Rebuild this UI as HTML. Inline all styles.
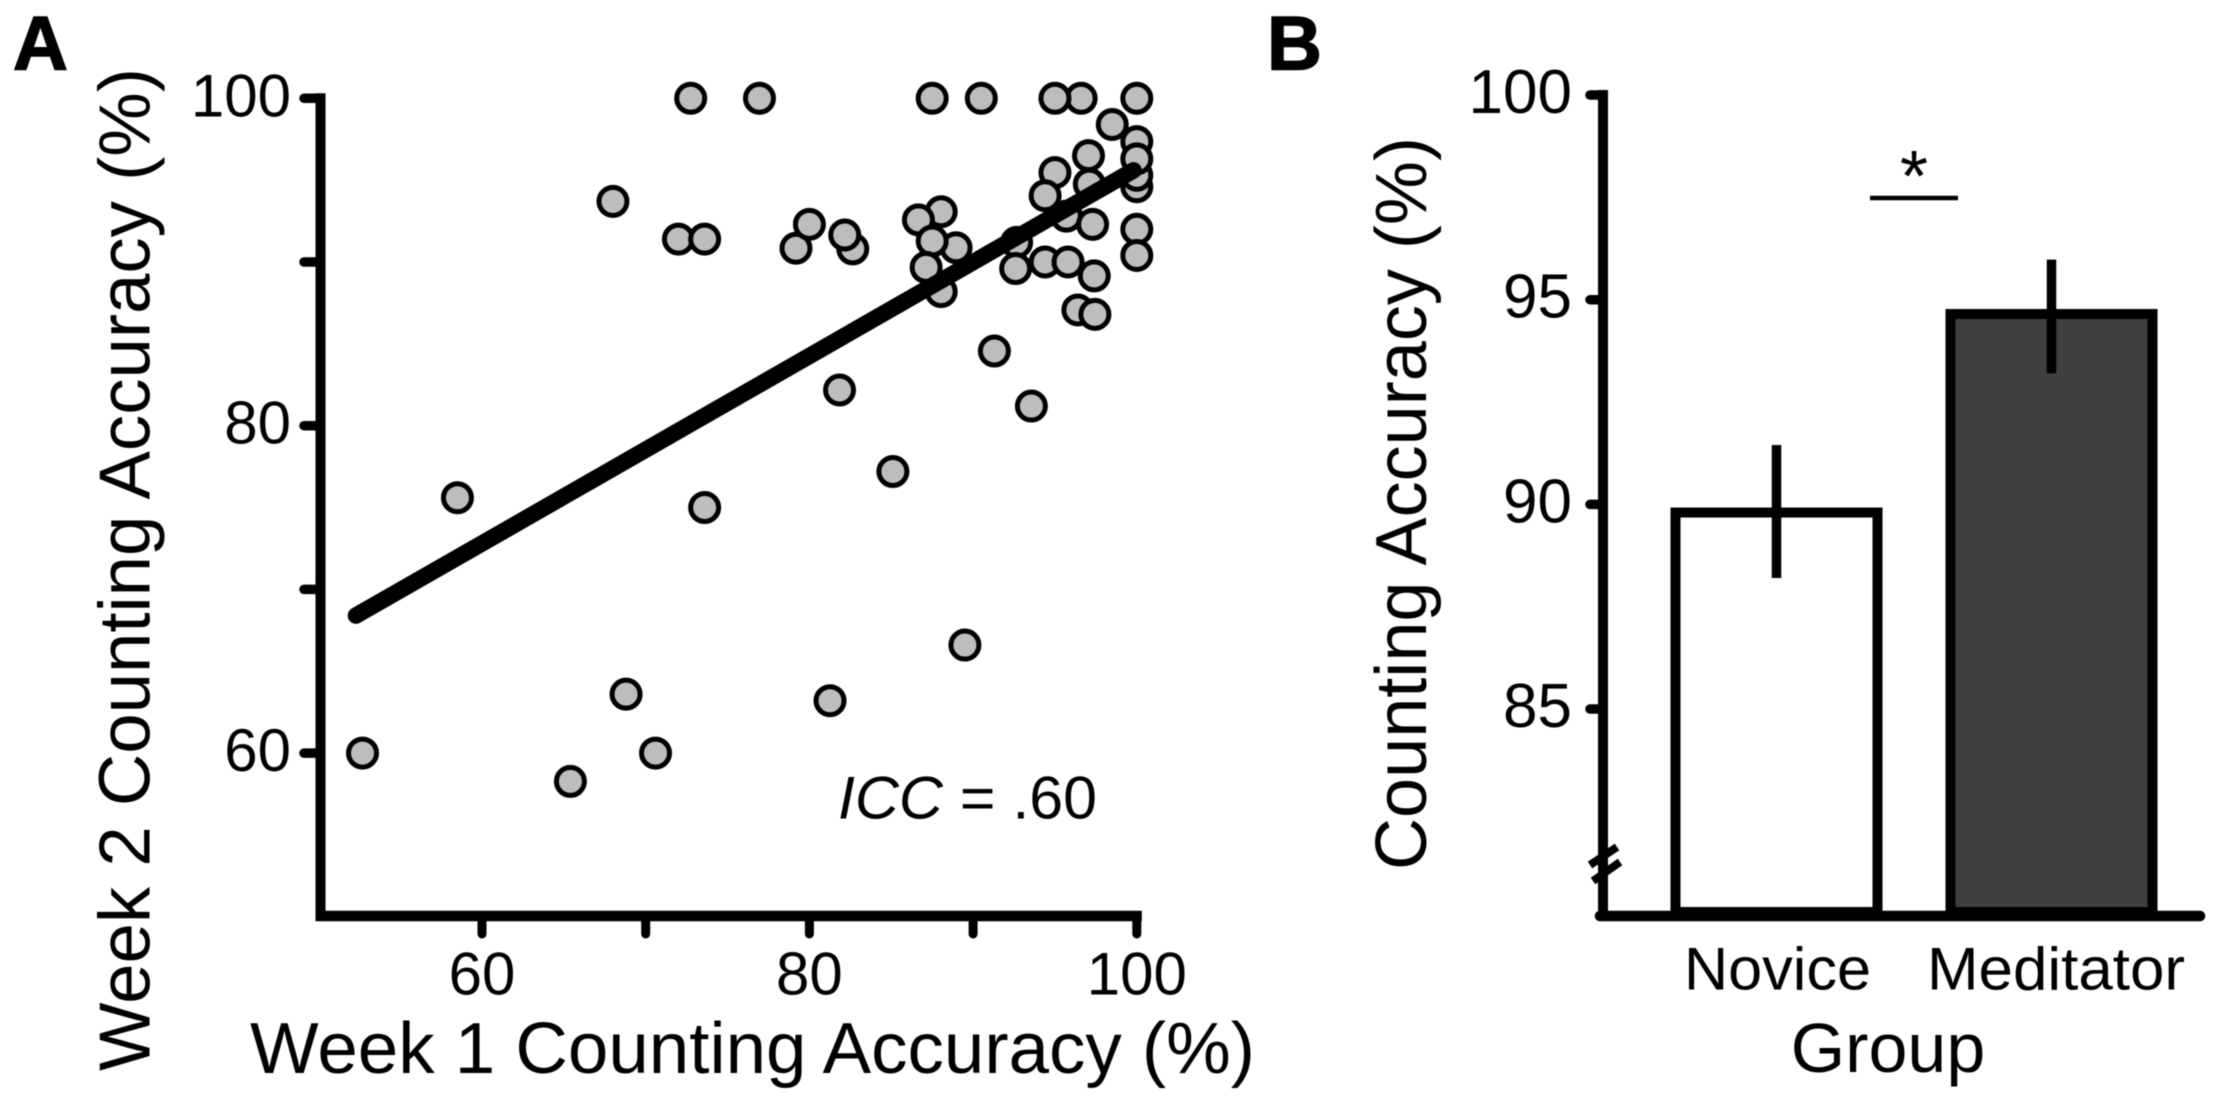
<!DOCTYPE html>
<html lang="en">
<head>
<meta charset="utf-8">
<title>Counting Accuracy Figure</title>
<style>
html,body{margin:0;padding:0;background:#fff;}
#figure{display:block;width:2217px;height:1099px;background:#fff;}
#panel-a,#panel-b{filter:blur(0.6px);}
text{font-family:"Liberation Sans",Arial,sans-serif;fill:#000;}
</style>
</head>
<body>
<svg id="figure" xmlns="http://www.w3.org/2000/svg" width="2217" height="1099" viewBox="0 0 2217 1099">
  <rect x="0" y="0" width="2217" height="1099" fill="#ffffff"/>
  <g id="panel-a">
    <text x="13" y="69.5" font-size="76" font-weight="bold" stroke="#000" stroke-width="1.5">A</text>
    <text transform="translate(149.5 1071) rotate(-90)" x="0" y="0" font-size="72" textLength="1003" lengthAdjust="spacingAndGlyphs">Week 2 Counting Accuracy (%)</text>
    <text x="250" y="1073" font-size="72" textLength="1005" lengthAdjust="spacingAndGlyphs">Week 1 Counting Accuracy (%)</text>
    <text x="838" y="818.5" font-size="60" textLength="259" lengthAdjust="spacingAndGlyphs"><tspan font-style="italic">ICC</tspan> = .60</text>
  </g>
  <g id="panel-b">
    <text x="1267" y="69.5" font-size="76" font-weight="bold" stroke="#000" stroke-width="1.5">B</text>
    <text transform="translate(1426 870) rotate(-90)" x="0" y="0" font-size="72" textLength="733" lengthAdjust="spacingAndGlyphs">Counting Accuracy (%)</text>
    <text x="1888" y="1072" font-size="70" text-anchor="middle">Group</text>
  </g>
</svg>
<script>
// Panel A data
const scatterTicksX = [60, 70, 80, 90, 100];
const scatterTicksY = [60, 70, 80, 90, 100];
const scatterTickLabels = [60, 80, 100];
const week1 = [52.7,58.5,65.4,68.0,68.8,70.6,72.0,72.75,73.6,73.6,76.95,79.18,80.0,81.26,81.84,82.65,82.16,85.1,88.05,88.05,86.66,88.96,87.5,87.13,87.5,89.5,90.5,91.3,93.56,92.66,92.6,94.4,95.8,95.7,97.3,97.4,96.4,97.44,95.0,94.4,97.1,97.05,96.6,95.0,100,100,100,100,100,100,100,98.5];
const week2 = [60.0,75.6,58.27,93.7,63.6,60.0,91.4,100,91.4,75.0,100,90.84,92.3,63.2,82.18,90.8,91.65,77.2,93.07,88.19,92.57,90.87,91.28,89.67,100,66.6,100,84.56,81.2,91.2,89.6,90.0,90.0,92.8,92.3,89.15,87.07,86.8,95.46,94.05,94.76,96.5,100,100,100,92.0,90.4,94.6,95.3,97.35,96.3,98.4];
const fitWeek1 = [52.3, 99.8];
const fitWeek2 = [68.4, 95.6];

// Panel B data
const groups = ['Novice', 'Meditator'];
const groupMeans = [89.8, 94.65];
const groupErrLow = [88.2, 93.2];
const groupErrHigh = [91.45, 95.98];
const barTicks = [85, 90, 95, 100];

const SVG_NS = 'http://www.w3.org/2000/svg';
const panelA = document.getElementById('panel-a');
const panelB = document.getElementById('panel-b');

function make(parent, tag, attrs, content) {
  const el = document.createElementNS(SVG_NS, tag);
  for (const key in attrs) {
    el.setAttribute(key, attrs[key]);
  }
  if (content !== undefined) {
    el.textContent = content;
  }
  parent.appendChild(el);
  return el;
}

// Axis functions
function ax(v) { return 482 + (v - 60) * 16.37; }
function ay(v) { return 98.3 + (100 - v) * 16.37; }
function by(v) { return 709 - (v - 85) * 40.93; }
function barCenter(i) { return 1776.5 + i * 275; }

const AX_Y0 = 916;
const AX_X0 = 320.5;
const BX_X0 = 1603;
const BAR_BASE = 912;
const BAR_WIDTH = 202;

// Panel A points
week1.forEach(function (v, i) {
  const dot = make(panelA, 'circle', {cx: ax(v), cy: ay(week2[i]), r: 14, fill: '#bdbdbd', stroke: '#000', 'stroke-width': 5});
  
  
});

// Fit line
const fit = make(panelA, 'line', {x1: ax(fitWeek1[0]), y1: ay(fitWeek2[0]), x2: ax(fitWeek1[1]), y2: ay(fitWeek2[1]), stroke: '#000', 'stroke-width': 16.5, 'stroke-linecap': 'round'});



// Panel A axes
const aYAxis = make(panelA, 'line', {x1: AX_X0, y1: ay(100) - 5, x2: AX_X0, y2: AX_Y0 + 5, stroke: '#000', 'stroke-width': 10});


const aXAxis = make(panelA, 'line', {x1: AX_X0 - 5, y1: AX_Y0, x2: ax(100) + 5, y2: AX_Y0, stroke: '#000', 'stroke-width': 10.5});



scatterTicksY.forEach(function (v) {
  const tick = make(panelA, 'line', {x1: 304, y1: ay(v), x2: AX_X0, y2: ay(v), stroke: '#000', 'stroke-width': 9.5, 'stroke-linecap': 'round'});
  
  
  if (scatterTickLabels.indexOf(v) >= 0) {
    const label = make(panelA, 'text', {x: 291, y: ay(v) + 18, 'font-size': 60, 'text-anchor': 'end'}, String(v));
    
    
  }
});
scatterTicksX.forEach(function (v) {
  const tick = make(panelA, 'line', {x1: ax(v), y1: AX_Y0, x2: ax(v), y2: 934, stroke: '#000', 'stroke-width': 9, 'stroke-linecap': 'round'});
  
  
  if (scatterTickLabels.indexOf(v) >= 0) {
    const label = make(panelA, 'text', {x: ax(v), y: 994.5, 'font-size': 60, 'text-anchor': 'middle'}, String(v));
    
    
  }
});

// Panel B bars
groups.forEach(function (name, i) {
  const cx = barCenter(i);
  const top = by(groupMeans[i]);
  const bar = make(panelB, 'rect', {x: cx - BAR_WIDTH / 2, y: top, width: BAR_WIDTH, height: BAR_BASE - top, fill: i === 0 ? '#ffffff' : '#404040', stroke: '#000', 'stroke-width': 10});
  
  
  const err = make(panelB, 'line', {x1: cx, y1: by(groupErrHigh[i]), x2: cx, y2: by(groupErrLow[i]), stroke: '#000', 'stroke-width': 9.5});
  
  
  const label = make(panelB, 'text', {x: cx + (i === 0 ? 1 : 4.5), y: 989.5, 'font-size': 60, 'text-anchor': 'middle', textLength: i === 0 ? 187 : 258, lengthAdjust: 'spacingAndGlyphs'}, name);
  
  
});

// Panel B axes
const bYAxis = make(panelB, 'line', {x1: BX_X0, y1: by(100) - 5, x2: BX_X0, y2: 921, stroke: '#000', 'stroke-width': 10});


const bXAxis = make(panelB, 'line', {x1: BX_X0 - 3, y1: AX_Y0, x2: 2200, y2: AX_Y0, stroke: '#000', 'stroke-width': 10.5, 'stroke-linecap': 'round'});



barTicks.forEach(function (v) {
  const tick = make(panelB, 'line', {x1: 1590, y1: by(v), x2: BX_X0, y2: by(v), stroke: '#000', 'stroke-width': 9.5, 'stroke-linecap': 'round'});
  
  
  const label = make(panelB, 'text', {x: 1572, y: by(v) + 18, 'font-size': 62, 'text-anchor': 'end'}, String(v));
  
  
});

// Axis break
const breakUpper = make(panelB, 'line', {x1: 1590, y1: 865, x2: 1617, y2: 847, stroke: '#000', 'stroke-width': 8});


const breakLower = make(panelB, 'line', {x1: 1593, y1: 881, x2: 1620, y2: 862, stroke: '#000', 'stroke-width': 8});



// Significance marker
const sigLine = make(panelB, 'line', {x1: 1870, y1: 198, x2: 1958, y2: 198, stroke: '#000', 'stroke-width': 4.5});


const sigStar = make(panelB, 'text', {x: 1914, y: 201, 'font-size': 72, 'text-anchor': 'middle'}, '*');


</script>
</body>
</html>
